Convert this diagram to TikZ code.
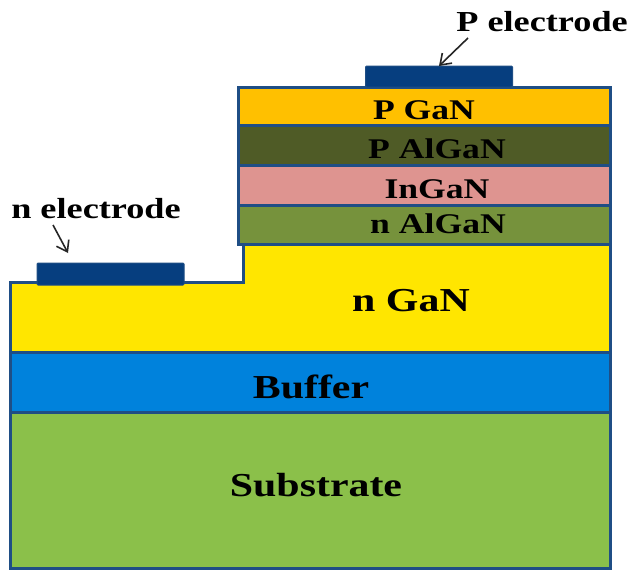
\documentclass[tikz,border=0pt]{standalone}
\usepackage{fontspec}
\setmainfont{Liberation Serif}[FakeStretch=1.25]
\usetikzlibrary{arrows.meta,positioning}
\definecolor{LayerEdge}{HTML}{1F4E85}
\definecolor{ElectrodeColour}{HTML}{063E7F}
\definecolor{PGaNColour}{HTML}{FFC000}
\definecolor{PAlGaNColour}{HTML}{4F5B26}
\definecolor{InGaNColour}{HTML}{DE9490}
\definecolor{NAlGaNColour}{HTML}{76923C}
\definecolor{NGaNColour}{HTML}{FFE600}
\definecolor{BufferColour}{HTML}{0082DC}
\definecolor{SubstrateColour}{HTML}{8BC04A}
\tikzstyle{LayerNode}=[draw=LayerEdge,line width=3pt,rectangle,inner sep=0pt,outer sep=0pt]
\tikzstyle{StackLayer}=[LayerNode,minimum width=372pt]
\tikzstyle{BaseLayer}=[LayerNode,minimum width=600pt]
\tikzstyle{ElectrodeNode}=[fill=ElectrodeColour,draw=LayerEdge,line width=1pt,rounded corners=1pt,minimum width=147pt,inner sep=0pt,outer sep=0pt]
\tikzstyle{SmallLabel}=[font=\fontsize{28.5}{31}\bfseries,inner sep=0pt]
\tikzstyle{LargeLabel}=[font=\fontsize{33.5}{36}\bfseries,inner sep=0pt]
\tikzstyle{ElectrodeLabel}=[font=\fontsize{29}{32}\bfseries,inner sep=0pt]
\tikzstyle{ElectrodeArrow}=[-{Straight Barb[length=10pt,width=14pt]},line width=1.6pt,black!85]

\begin{document}
\begin{tikzpicture}[x=1pt,y=-1pt]
  \useasboundingbox (0,0) rectangle (630,570);
  \path[fill=white] (0,0) rectangle (630,570);

  \draw[LayerEdge,line width=3pt,fill=NGaNColour] (10,352) -- (10,282) -- (243,282) -- (243,244) -- (610,244) -- (610,352) -- cycle;
  \node[LargeLabel] (NGaNLabel) at (411,301) {n GaN};

  \node[StackLayer,fill=PGaNColour,minimum height=38pt] (PGaN) at (424,106) {};
  \node[StackLayer,fill=PAlGaNColour,minimum height=40pt,below=0pt of PGaN] (PAlGaN) {};
  \node[StackLayer,fill=InGaNColour,minimum height=40pt,below=0pt of PAlGaN] (InGaN) {};
  \node[StackLayer,fill=NAlGaNColour,minimum height=39pt,below=0pt of InGaN] (NAlGaN) {};
  \node[SmallLabel,yshift=-4pt] (PGaNLabel) at (PGaN) {P GaN};
  \node[SmallLabel,xshift=13pt,yshift=-4pt] (PAlGaNLabel) at (PAlGaN) {P AlGaN};
  \node[SmallLabel,xshift=13pt,yshift=-4pt] (InGaNLabel) at (InGaN) {InGaN};
  \node[SmallLabel,xshift=14pt,yshift=1pt] (NAlGaNLabel) at (NAlGaN) {n AlGaN};

  \node[BaseLayer,fill=BufferColour,minimum height=60pt] (Buffer) at (310,382) {};
  \node[BaseLayer,fill=SubstrateColour,minimum height=156pt,below=0pt of Buffer] (Substrate) {};
  \node[LargeLabel] (BufferLabel) at (311,387) {Buffer};
  \node[LargeLabel] (SubstrateLabel) at (316,485) {Substrate};

  \node[ElectrodeNode,minimum height=21pt] (PElectrode) at (439,76.5) {};
  \node[ElectrodeNode,minimum height=22pt] (NElectrode) at (110.5,274) {};

  \node[ElectrodeLabel] (PElectrodeLabel) at (542,22) {P electrode};
  \node[ElectrodeLabel] (NElectrodeLabel) at (96,209) {n electrode};

  \coordinate (PArrowStart) at (468,38);
  \coordinate (NArrowStart) at (53,225);
  \coordinate (NArrowEnd) at (68,253);
  \draw[ElectrodeArrow] (PArrowStart) -- (PElectrode.north);
  \draw[ElectrodeArrow] (NArrowStart) -- (NArrowEnd);
\end{tikzpicture}
\end{document}
